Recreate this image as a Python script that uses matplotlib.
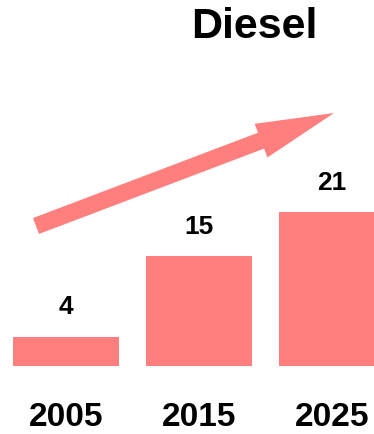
import matplotlib.pyplot as plt
from matplotlib.patches import FancyArrow

# 数据
years = ['2005', '2015', '2025']
values = [4, 15, 21]
bar_color = '#ff7f7f'

plt.rcParams['font.family'] = ['Liberation Sans', 'DejaVu Sans']

fig = plt.figure(figsize=(3.74, 4.34), dpi=100)

# 柱状图区域（右侧柱子被画布裁掉一部分）
ax = fig.add_axes([0, 68 / 434, 1, 366 / 434])
pos = list(range(len(years)))
ax.bar(pos, values, width=0.79, color=bar_color)
ax.set_xlim(-0.496, 2.316)
ax.set_ylim(0, 49.9)
ax.set_xticks(pos)
ax.set_xticklabels(years, fontsize=24, fontweight='bold')
ax.tick_params(axis='x', length=0, pad=26)
ax.set_yticks([])
for s in ax.spines.values():
    s.set_visible(False)

# 数值标签
for p, v in zip(pos, values):
    ax.annotate(str(v), (p, v), xytext=(0, 21), textcoords='offset points',
                ha='center', va='center', fontsize=19, fontweight='bold')

# 上升趋势箭头（像素坐标叠加层）
ov = fig.add_axes([0, 0, 1, 1], facecolor='none')
ov.set_xlim(0, 374)
ov.set_ylim(434, 0)
ov.axis('off')
ov.add_patch(FancyArrow(36, 226, 298, -113, width=17, head_width=36,
                        head_length=78, length_includes_head=True,
                        color=bar_color, lw=0))

fig.text(254 / 374, 1 - 27 / 434, 'Diesel', ha='center', va='center',
         fontsize=31, fontweight='bold')

fig.savefig('out.png', dpi=100)
